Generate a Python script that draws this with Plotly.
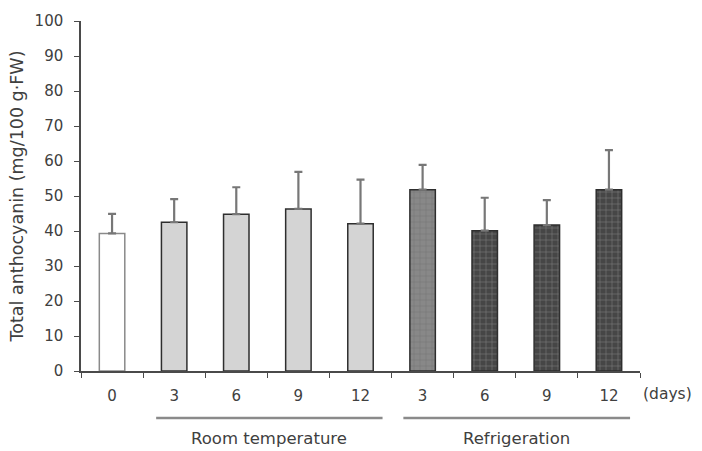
import plotly.graph_objects as go

categories = ["c0", "rt3", "rt6", "rt9", "rt12", "rf3", "rf6", "rf9", "rf12"]
tick_labels = ["0", "3", "6", "9", "12", "3", "6", "9", "12"]
values = [39.3, 42.5, 44.8, 46.3, 42.1, 51.8, 40.1, 41.7, 51.8]
errors = [5.6, 6.6, 7.7, 10.6, 12.6, 7.1, 9.4, 7.1, 11.3]
group_names = ["Room temperature", "Refrigeration"]

fill_colors = ["#ffffff"] + ["#d4d4d4"] * 4 + ["#888888"] + ["#464646"] * 3
line_colors = ["#8a8a8a"] + ["#2e2e2e"] * 8
pattern_shapes = [""] * 5 + ["+"] * 4
pattern_fg = ["#999999"] * 5 + ["#929292"] + ["#565656"] * 3

font_family = "DejaVu Sans, Liberation Sans, Arial, sans-serif"
text_color = "#404040"

fig = go.Figure()
fig.add_trace(go.Bar(
    x=categories,
    y=values,
    width=0.41,
    marker=dict(
        color=fill_colors,
        line=dict(color=line_colors, width=1.5),
        pattern=dict(shape=pattern_shapes, fgcolor=pattern_fg, size=6, solidity=0.1),
    ),
    error_y=dict(type="data", array=errors, arrayminus=[0] * len(errors),
                 symmetric=False, color="#777777", thickness=2.2, width=4),
    showlegend=False,
))

fig.update_layout(
    width=702, height=451,
    margin=dict(l=81, r=62, t=13, b=80),
    paper_bgcolor="white", plot_bgcolor="white",
    font=dict(family=font_family, size=15, color=text_color),
    xaxis=dict(
        type="category",
        tickvals=categories, ticktext=tick_labels,
        tickson="boundaries", ticks="outside", ticklen=5, tickcolor="#4a4a4a",
        showline=True, linecolor="#4a4a4a", linewidth=1.5,
        showgrid=False, zeroline=False,
        tickfont=dict(size=15, color=text_color),
        ticklabelstandoff=10,
        range=[-0.5, 8.5],
    ),
    yaxis=dict(
        range=[0, 100], dtick=10,
        ticks="outside", ticklen=5, tickcolor="#4a4a4a",
        showline=True, linecolor="#4a4a4a", linewidth=1.5,
        showgrid=False, zeroline=False,
        tickfont=dict(size=15, color=text_color),
        ticklabelstandoff=8,
        title=dict(text="Total anthocyanin (mg/100 g·FW)", font=dict(size=17.5, color=text_color), standoff=6),
    ),
)

# group lines and labels
groups = [(0.71, 4.355, group_names[0]), (4.69, 8.34, group_names[1])]
for x0, x1, name in groups:
    fig.add_shape(type="line", xref="x", yref="paper", x0=x0, x1=x1, y0=-0.134, y1=-0.134,
                  line=dict(color="#8a8a8a", width=2.5))
    fig.add_annotation(xref="x", yref="paper", x=(x0 + x1) / 2, y=-0.193, text=name,
                       showarrow=False, font=dict(size=16.5, color=text_color),
                       xanchor="center", yanchor="middle")

fig.add_annotation(xref="paper", yref="paper", x=1.049, y=-0.067, text="(days)",
                   showarrow=False, font=dict(size=15.5, color=text_color),
                   xanchor="center", yanchor="middle")

fig.write_html("out.html")
